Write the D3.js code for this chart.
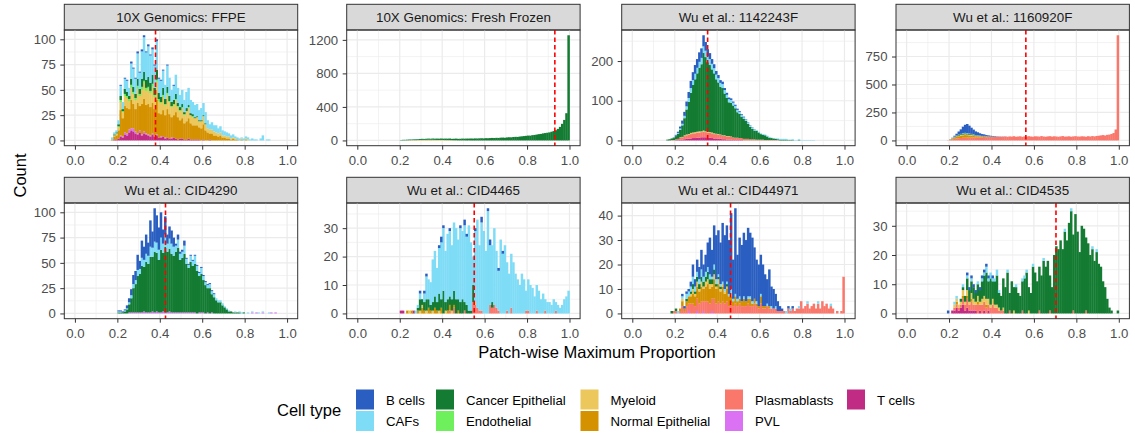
<!DOCTYPE html>
<html>
<head>
<meta charset="utf-8">
<script src="https://cdn.jsdelivr.net/npm/d3@7"></script>
<style>
body { margin: 0; background: #fff; }
svg { display: block; font-family: "Liberation Sans", Arial, Helvetica, sans-serif; }
</style>
</head>
<body>
<svg width="1135" height="435"></svg>
<script>
// ---- data ----
var cellTypes = ["B cells", "CAFs", "Cancer Epithelial", "Endothelial", "Myeloid",
                 "Normal Epithelial", "Plasmablasts", "PVL", "T cells"];
var cellColors = ["#2a5fc1", "#7fdcf6", "#137b32", "#6ef05c", "#ecc75c",
                  "#d49100", "#fa776c", "#db72f3", "#c22b84"];
// bottom to top in each stacked bar
var stackOrder = ["T cells", "PVL", "Plasmablasts", "Normal Epithelial", "Myeloid",
                  "Endothelial", "Cancer Epithelial", "CAFs", "B cells"];

var panelTitles = ["10X Genomics: FFPE", "10X Genomics: Fresh Frozen", "Wu et al.: 1142243F", "Wu et al.: 1160920F",
                   "Wu et al.: CID4290", "Wu et al.: CID4465", "Wu et al.: CID44971", "Wu et al.: CID4535"];
// lower edge of the first 0.01-wide bin of each panel
var panelStart = [0.17, 0.20, 0.16, 0.19, 0.20, 0.20, 0.18, 0.19];
var panelMedian = [0.38, 0.931, 0.355, 0.562, 0.427, 0.551, 0.463, 0.704];
var panelYTicks = [[0, 25, 50, 75, 100], [0, 400, 800, 1200], [0, 100, 200], [0, 250, 500, 750],
                   [0, 25, 50, 75, 100], [0, 10, 20, 30], [0, 10, 20, 30, 40], [0, 10, 20, 30]];
var xTicks = [0, 0.2, 0.4, 0.6, 0.8, 1.0];

// counts per bin, by cell type (missing bins = 0)
var ffpeCounts = {
  "T cells": [0,1,1,2,4,3,6,5,8,10,9,7,6,8,5,7,6,5,4,6,4,5,3,3,4,2,3,2,2,3,2,1,2,2,1,1,2,1,1,1,1,1,0,1,0,0,1],
  "PVL": [0,0,0,0,1,1,2,2,3,2,3,2,1,2,1,2,1,1,1,1,1,1,0,1,0,1,0,0,1],
  "Normal Epithelial": [1,3,4,8,25,18,26,25,20,28,24,22,30,24,30,32,28,30,28,30,26,34,24,22,26,22,28,24,20,22,26,22,18,20,16,18,20,16,14,14,14,12,12,15,10,8,6,7,5,5,4,5,3,3,2,2,1,2,1,1,0,1,0,1,0,0],
  "Myeloid": [0,1,2,3,8,6,10,10,8,12,10,9,14,10,14,16,14,15,14,16,12,18,12,11,13,10,14,12,10,10,12,10,9,10,8,10,10,8,8,7,8,6,7,8,6,4,4,4,4,3,3,3,2,2,2,2,1,1,1,0,0,1,0,1,1],
  "Endothelial": [0,0,0,1,2,1,2,2,2,3,2,2,3,2,3,2,3,2,2,3,2,2,2,1,2,1,2,1,1,1,1,1,1,1,1,0,1,0,1],
  "Cancer Epithelial": [0,1,1,2,4,2,5,4,3,6,5,4,7,5,8,9,8,10,8,9,7,10,6,5,7,5,6,5,4,4,5,3,3,3,2,3,2,2,2,1,1,1,1,1,1],
  "CAFs": [2,2,2,4,10,7,10,11,8,15,18,15,25,16,27,34,27,30,27,25,22,28,14,16,17,14,21,18,12,14,19,15,12,14,12,16,17,13,12,12,12,10,12,12,11,8,5,7,6,7,5,6,5,4,4,3,3,3,2,2,2,1,2,2,2,1,2,1,1,0,2,5,0,1,1],
  "B cells": [0,0,0,0,1,0,1,1,0,2,1,1,2,1,2,2,1,2,1,2,1,2,1,1,1,0,1,0,0,1]
};
var freshFrozenCounts = {
  "Normal Epithelial": [0,0,1,1,1,2,1,2,2,2,3,2,3,2,3,2,2,2,1,2,1,1,1,1,1],
  "Myeloid": [0,1,1,1,2,2,3,2,3,4,4,5,4,6,5,6,5,4,5,4,4,3,3,3,2,2,2,1,1,1,1,0,1],
  "Cancer Epithelial": [4,6,5,7,8,7,9,10,9,11, 12,11,13,14,12,15,14,16,15,17, 16,18,17,19,16,18,20,18,19,21,
                        20,22,21,23,22,24,23,25,26,24, 27,26,28,30,29,31,30,33,34,32, 36,38,37,41,43,42,46,49,52,55,
                        58,57,63,66,70,75,78,84,88,92, 96,104,112,122,138,162,198,245,325,1255],
  "CAFs": [1,1,1,2,1,2,2,2,1,2,2,1,2,2,1,2,1,1,1,1,1,1,1,1,0,1,0,1]
};
var wu1142243Counts = {
  "T cells": [0,0,0,0,1,1,2,2,3,4,4,5,6,6,7,7,8,8,8,7,7,6,5,5,4,4,3,3,2,2,2,1,1,1,1,1],
  "Plasmablasts": [0,0,1,1,2,3,5,6,8,9,10,11,12,12,13,13,13,14,13,13,12,12,11,11,10,10,9,9,8,8,7,7,6,6,5,5,4,4,4,3,3,3,2,2,2,2,1,1,1,1,1,1,1],
  "Myeloid": [0,0,0,0,0,0,1,1,2,2,2,3,2,3,2,3,2,3,2,2,2,2,2,1,2,1,1,1,1,1,1],
  "Cancer Epithelial": [2,3,4,5,8,13,19,29,43,63,81,101,120,133,147,160,169,196,187,175,169,159,151,137,130,120,119,105,96,85,
                        85,80,74,64,61,53,50,45,38,31,26,22,22,18,14,12,12,9,6,5,4,3,2,2,2,2,2,1,1,1,0,0,1],
  "CAFs": [0,0,0,1,1,2,3,4,6,8,10,12,12,14,14,15,16,16,16,15,15,14,13,12,11,10,10,9,8,8,7,7,6,6,5,5,4,4,3,3,
           3,2,2,2,2,2,2,2,2,1,1,1,2,2,2,2,2,1,1,2,1,1,2,1,1,1,1,1,1,1],
  "B cells": [0,0,0,1,2,3,5,8,10,12,15,18,20,22,22,24,24,28,22,18,15,12,10,9,8,7,6,5,5,4,4,3,3,3,2,2,2,1,1,1,1,1]
};
var wu1160920Counts = {
  "Plasmablasts": [2,5,10,15,18,20,22,24,24,25,25,26,27,26,28,27,28,30,29,30,31,30,32,31,33,32,34,
                   35,33,36,34,38,33,35,37,32,36, 34,38,35,33,37,36,34,39,35,33, 36,38,34,37,35,33,36,39,34,35,
                   37,33,36,38,35,34,37,36,33,38, 35,39,36,40, 42,45,48,44,50,52, 58,66,98,940],
  "Normal Epithelial": [0,2,6,10,15,18,20,22,24,22,20,18,15,12,10,8,6,5,4,3,2,2,1,1],
  "Myeloid": [0,1,2,3,4,5,6,6,7,6,6,5,4,4,3,3,2,2,2,1,1,1],
  "Cancer Epithelial": [0,1,2,4,5,6,8,9,9,8,8,7,6,5,4,4,3,3,2,2,1,1,1],
  "CAFs": [0,0,1,2,2,3,3,4,4,4,3,3,3,2,2,2,2,1,1,1,1,1],
  "B cells": [0,1,3,8,16,28,40,58,72,82,70,55,42,32,26,20,16,13,10,8,6,5,4,3,2,2,1,1]
};
var cid4290Counts = {
  "PVL": [0,0,0,0,0,1,1,1,1,1, 1,1,2,1,1,1,2,1,2,1, 1,2,1,1,2,1,1,1,1,1, 1,1,1,1,1,1,1,0,1,1,
          1,0,1,0,1,0,0,0,0,0, 0,0,0,0,0,0,0,0,0,0, 0,0,0,1,0,1,0,0,1,0,0,0,1,0,1,0],
  "Cancer Epithelial": [1,1,1,2,4,8,14,24,28,36, 38,46,44,50,48,55,54,60,58,52, 62,58,65,60,62,58,56,60,64,52,
                        54,58,48,44,50,46,48,42,36,38, 32,28,24,25,18,16,13,11,11,8, 6,4,2,2,1,1,1,1,0,1],
  "CAFs": [1,1,0,1,1,2,3,4,4,6, 5,8,7,8,8,10,9,10,10,10, 12,9,12,8,10,10,9,6,8,6, 6,8,5,3,6,5,8,5,3,6,
           4,3,3,4,3,3,2,2,2,2, 1,1,1,0,0,1,0,1,1,0, 0,1,0,1,0,0,1,0,1,0,0,1],
  "B cells": [1,1,1,1,3,4,6,9,9,15, 8,17,13,19,13,26,16,33,27,22, 25,14,18,9,12,13,9,2,5,2,
              2,5,1,1,1,1,1,1,1,1, 1,1,1,1,1,1]
};
var cid4465Counts = {
  "T cells": [1,1,0,0,0,0,1],
  "Plasmablasts": [0,0,0,0,0,0,0,0,0,0, 0,0,0,0,0,0,0,0,0,0, 0,0,0,1,0,2,0,0,0,0, 1,0,0,0,4,3,2,1,1,0,
                   0,0,3,2,3,2,1,0,0,0, 1,0,2,0,0,0,0,0,0,1, 1,0,0,0,1,0,0,0,1,0, 0,0,0,1],
  "Normal Epithelial": [0,0,0,1,0,1,0,0,1,0, 2,1,0,2,1,0,2,1,0,2, 0,0,1,2,0,1,0,1],
  "Myeloid": [0,0,0,0,1,0,0,0,0,1, 1,0,1,0,0,1,0,0,1,0, 0,1,0,0,1,0,0,0,0,0, 0,0,0,0,0,1],
  "Cancer Epithelial": [0,0,0,0,0,0,0,0,1,4, 2,3,4,3,2,3,4,3,6,3, 8,3,4,3,4,5,5,4,4,5, 3,3,1,1,6,0,0,0,0,0, 0,0,0,2],
  "CAFs": [0,0,0,0,0,0,0,1,1,2, 0,3,8,7,8,15,16,12,16,20, 22,18,23,23,19,24,25,21,26,24, 27,24,30,24,10,25,31,23,31,29,
           22,36,21,20,27,20,14,26,21,24, 17,14,19,18,14,12,10,14,12,7, 11,10,9,6,9,8,5,7,4,4, 4,3,5,3,3,2,3,5,6,8],
  "B cells": [0,0,0,0,0,0,0,0,0,1, 0,1,1,0,0,0,0,0,1,2, 1,0,0,1,0,0,0,0,1,0, 2,1,0,0,0,1,0,0,2,0, 0,1,2,0,0,0,1,0,1]
};
var cid44971Counts = {
  "PVL": [0,0,0,0,0,0,0,0,1,0, 0,0,1,0,0,1,0,0,0,1],
  "Plasmablasts": [0,1,1,0,1,3,1,3,3,4, 4,3,5,4,5,4,5,5,4,5, 6,4,5,4,5,4,5,3,4,3, 4,3,4,3,3,3,4,3,3,4,
                   3,2,4,2,2,3,2,2,2,2, 1,1,1,1,0,2,1,2,1,2, 2,5,2,3,4,2,3,4,2,4, 2,5,3,4,2,3,2,0,1,0, 1,15],
  "Normal Epithelial": [0,0,0,0,1,2,1,2,3,3, 4,4,5,5,6,5,6,7,6,5, 8,6,7,5,6,4,5,4,3,2, 3,2,2,2,3,2,2,3,1,2, 1,1,3,1,1,0,1],
  "Myeloid": [0,0,0,0,0,1,0,0,0,1, 2,1,2,1,2,1,2,2,2,1, 2,1,2,1,1,1,1,0,1],
  "Cancer Epithelial": [1,0,1,0,0,0,0,1,0,1, 2,1,2,2,2,2,2,3,2,2, 2,1,1,1,0,0,1],
  "CAFs": [0,0,0,1,0,1,0,2,2,2, 3,2,2,2,3,2,2,2,2,1, 2,2,1,1,1,1,1,1,2,1, 1,1,1,0,1,0,1,1,1,0,
           1,0,1,0,0,1,0,1,0,1, 0,0,0,0,1,0,1,0,0,0, 1,0,0,0,1,0,0,0,0,1, 0,0,0,0,0,1],
  "B cells": [0,0,0,0,0,1,1,1,1,2, 5,3,5,5,8,5,7,10,15,11, 16,18,18,17,24,22,23,22,31,16,
              35,18,24,23,26,25,28,26,26,21, 17,17,16,17,13,10,15,8,8,5, 4,2,1,0,0,1,0,1]
};
var cid4535Counts = {
  "T cells": [0,0,1,1,2,1,2,3,1,2, 1,1,1,1,0,1,0,1,0,1],
  "Plasmablasts": [0,0,0,1,1,1,1,2,2,3, 2,3,2,2,3,2,3,3,2,2, 2,3,2,2,1,1,1,0,0,1, 0,0,0,0,0,1,0,0,0,0,
                   0,0,0,1,0,0,0,0,1,0, 0,0,0,0,0,0,0,0,0,1, 0,0,0,0,0,1],
  "Normal Epithelial": [0,0,0,0,1,0,0,1,0,1, 0,1,0,0,1,0,0,0,1],
  "Myeloid": [0,0,0,1,1,1,1,2,1,2, 1,2,2,1,2,1,2,2,2,2, 1,2,1,1,1,0,1,0,0,0, 0,1,0,0,0,0,0,0,1],
  "Cancer Epithelial": [0,0,0,0,0,0,1,1,2,4, 4,4,4,3,4,4,6,7,9,6, 9,6,8,10,5,5,10,9,14,6, 11,8,9,7,6,10,12,14,8,7,
                        16,14,11,15,13,18,16,18,12,9, 20,23,22,25,22,28,25,31,35,26, 34,28,21,30,29,25,24,20,22,18,
                        21,17,16,11,9,5,2,1,0,0, 1],
  "CAFs": [0,0,0,1,1,0,0,1,0,1, 0,1,0,0,1,0,1,1,2,1, 2,1,1,2,1,0,0,0,1,0, 0,0,1,0,0,1,1,1,0,0,
           1,0,0,0,0,1,0,0,0,0, 0,0,0,0,0,1,0,0,1,0, 0,0,0,0,0,0,0,0,1,0, 1],
  "B cells": [1,0,0,0,0,0,0,0,0,1, 1,1,1,1,0,1,1,1,1,1, 0,1]
};
var panelCounts = [ffpeCounts, freshFrozenCounts, wu1142243Counts, wu1160920Counts,
                   cid4290Counts, cid4465Counts, cid44971Counts, cid4535Counts];

// ---- layout ----
var svg = d3.select("svg");
var colLeft = [64.3, 346.7, 621.7, 896];
var rowTop = [4.3, 177.3];
var panelW = 233.4, stripH = 25.7, panelH = 115.7;
var binW = 0.01;
var tickFont = "13.2px";

var color = d3.scaleOrdinal().domain(cellTypes).range(cellColors);

function minorBreaks(ticks, lo, hi) {
  var out = [];
  var step = ticks[1] - ticks[0];
  for (var i = 0; i < ticks.length; i++) {
    [ticks[i] - step / 2, ticks[i] + step / 2].forEach(function(m) {
      if (m > lo && m < hi && out.indexOf(m) < 0) out.push(m);
    });
  }
  return out;
}

panelTitles.forEach(function(title, p) {
  var left = colLeft[p % 4];
  var top = rowTop[Math.floor(p / 4)];
  var counts = panelCounts[p];

  var nBins = d3.max(stackOrder, function(k) { return counts[k] ? counts[k].length : 0; });
  var rows = d3.range(nBins).map(function(i) {
    var r = { x0: panelStart[p] + i * binW };
    stackOrder.forEach(function(k) { r[k] = (counts[k] && counts[k][i]) || 0; });
    return r;
  });
  var series = d3.stack().keys(stackOrder)(rows);
  var yMax = d3.max(series[series.length - 1], function(d) { return d[1]; });

  var x = d3.scaleLinear().domain([-0.05, 1.05]).range([0, panelW]);
  var y = d3.scaleLinear().domain([-0.05 * yMax, 1.05 * yMax]).range([panelH, 0]);

  // strip
  svg.append("rect")
    .attr("x", left).attr("y", top)
    .attr("width", panelW).attr("height", stripH)
    .attr("fill", "#d9d9d9").attr("stroke", "#333333").attr("stroke-width", 1);
  svg.append("text")
    .attr("x", left + panelW / 2).attr("y", top + stripH / 2 + 4.6)
    .attr("text-anchor", "middle")
    .attr("font-size", "13.4px").attr("fill", "#1a1a1a")
    .text(title);

  var g = svg.append("g").attr("transform", "translate(" + left + "," + (top + stripH) + ")");

  // grid
  var xMinor = [0.1, 0.3, 0.5, 0.7, 0.9];
  var yTicks = panelYTicks[p];
  var yMinor = minorBreaks(yTicks, y.domain()[0], y.domain()[1]);
  g.selectAll(".xminor").data(xMinor).enter().append("line")
    .attr("x1", x).attr("x2", x).attr("y1", 0).attr("y2", panelH)
    .attr("stroke", "#ebebeb").attr("stroke-width", 0.6);
  g.selectAll(".yminor").data(yMinor).enter().append("line")
    .attr("x1", 0).attr("x2", panelW).attr("y1", y).attr("y2", y)
    .attr("stroke", "#ebebeb").attr("stroke-width", 0.6);
  g.selectAll(".xmajor").data(xTicks).enter().append("line")
    .attr("x1", x).attr("x2", x).attr("y1", 0).attr("y2", panelH)
    .attr("stroke", "#ebebeb").attr("stroke-width", 1.2);
  g.selectAll(".ymajor").data(yTicks).enter().append("line")
    .attr("x1", 0).attr("x2", panelW).attr("y1", y).attr("y2", y)
    .attr("stroke", "#ebebeb").attr("stroke-width", 1.2);

  // stacked histogram bars (slight overlap hides anti-aliasing seams)
  var bw = x(binW) - x(0);
  g.selectAll(".layer").data(series).enter().append("g")
    .attr("fill", function(s) { return color(s.key); })
    .selectAll("rect")
    .data(function(s) { return s.filter(function(d) { return d[1] > d[0]; }); })
    .enter().append("rect")
    .attr("x", function(d) { return x(d.data.x0); })
    .attr("width", bw + 0.35)
    .attr("y", function(d) { return y(d[1]); })
    .attr("height", function(d) { return y(d[0]) - y(d[1]); });

  // median line
  g.append("line")
    .attr("x1", x(panelMedian[p])).attr("x2", x(panelMedian[p]))
    .attr("y1", 0).attr("y2", panelH)
    .attr("stroke", "#ff0000").attr("stroke-width", 1.6)
    .attr("stroke-dasharray", "4.5,3");

  // panel border
  g.append("rect")
    .attr("width", panelW).attr("height", panelH)
    .attr("fill", "none").attr("stroke", "#333333").attr("stroke-width", 1);

  // axes
  var ax = g.append("g")
    .attr("transform", "translate(0," + panelH + ")")
    .call(d3.axisBottom(x).tickValues(xTicks).tickFormat(d3.format(".1f")).tickSize(4).tickPadding(5.5));
  var ay = g.append("g")
    .call(d3.axisLeft(y).tickValues(yTicks).tickFormat(d3.format("d")).tickSize(4).tickPadding(4.5));
  [ax, ay].forEach(function(a) {
    a.select(".domain").remove();
    a.selectAll(".tick line").attr("stroke", "#333333");
    a.selectAll(".tick text").attr("fill", "#4d4d4d").attr("font-size", tickFont)
      .attr("font-family", "Liberation Sans, Arial, sans-serif");
  });
});

// axis titles
svg.append("text")
  .attr("x", 597).attr("y", 358)
  .attr("text-anchor", "middle").attr("font-size", "16.5px").attr("fill", "#000")
  .text("Patch-wise Maximum Proportion");
svg.append("text")
  .attr("transform", "translate(26,175.5) rotate(-90)")
  .attr("text-anchor", "middle").attr("font-size", "16.5px").attr("fill", "#000")
  .text("Count");

// legend
var legendKeyX = [356, 436, 580.5, 725, 847];
var legendRowY = [389.5, 411];
svg.append("text")
  .attr("x", 277).attr("y", 416)
  .attr("font-size", "16.5px").attr("fill", "#000")
  .text("Cell type");
var leg = svg.selectAll(".legend-item").data(cellTypes).enter().append("g")
  .attr("transform", function(d, i) {
    return "translate(" + legendKeyX[Math.floor(i / 2)] + "," + legendRowY[i % 2] + ")";
  });
leg.append("rect")
  .attr("width", 18).attr("height", 20)
  .attr("fill", function(d) { return color(d); });
leg.append("text")
  .attr("x", 30).attr("y", 15)
  .attr("font-size", tickFont).attr("fill", "#000")
  .text(function(d) { return d; });
</script>
</body>
</html>
